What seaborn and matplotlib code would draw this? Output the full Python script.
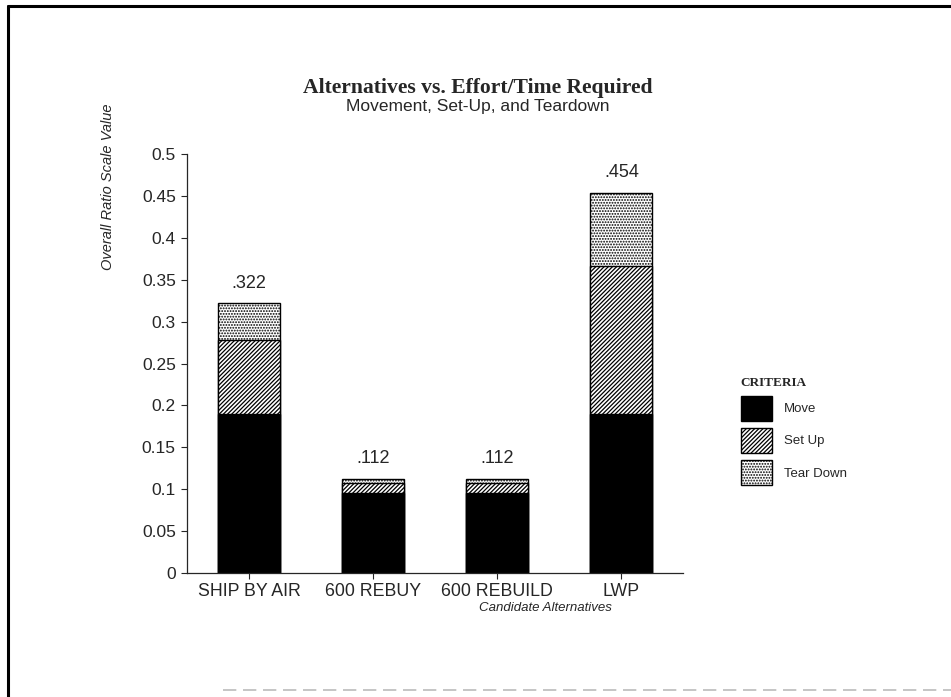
import matplotlib.pyplot as plt
import pandas as pd
import seaborn as sns
from matplotlib.lines import Line2D
from matplotlib.patches import Patch

# values
alternatives = ["SHIP BY AIR", "600 REBUY", "600 REBUILD", "LWP"]
move = [0.190, 0.096, 0.096, 0.190]
set_up = [0.088, 0.012, 0.012, 0.177]
tear_down = [0.044, 0.004, 0.004, 0.087]
y_ticks = [0, 0.05, 0.1, 0.15, 0.2, 0.25, 0.3, 0.35, 0.4, 0.45, 0.5]
y_tick_labels = ["0", "0.05", "0.1", "0.15", "0.2", "0.25", "0.3", "0.35", "0.4", "0.45", "0.5"]
criteria = ["Move", "Set Up", "Tear Down"]

SANS = "Liberation Sans"
SERIF = "Liberation Serif"
HATCH_SETUP = "////////"
HATCH_TEAR = "......"


def main():
    sns.set_style("ticks")
    plt.rcParams["font.family"] = [SANS, "DejaVu Sans"]
    plt.rcParams["hatch.linewidth"] = 0.9
    plt.rcParams["hatch.color"] = "black"

    df = pd.DataFrame({
        "alt": alternatives,
        "move": move,
        "set_up": set_up,
        "tear_down": tear_down,
    })
    df["lvl2"] = df["move"] + df["set_up"]
    df["total"] = df["lvl2"] + df["tear_down"]

    fig = plt.figure(figsize=(9.51, 6.97), dpi=100)
    ax = fig.add_axes([0.1966, 0.1779, 0.522, 0.601])

    # stacked bars drawn back to front
    sns.barplot(data=df, x="alt", y="total", color="white", edgecolor="black",
                hatch=HATCH_TEAR, linewidth=1.0, width=0.5, ax=ax)
    sns.barplot(data=df, x="alt", y="lvl2", color="white", edgecolor="black",
                hatch=HATCH_SETUP, linewidth=1.0, width=0.5, ax=ax)
    sns.barplot(data=df, x="alt", y="move", color="black", edgecolor="black",
                linewidth=1.0, width=0.5, ax=ax)

    for i, v in enumerate(df["total"]):
        ax.text(i, v + 0.014, f"{v:.3f}".lstrip("0"), ha="center", va="bottom",
                fontsize=13)

    ax.set_xlim(-0.5, 3.5)
    ax.set_ylim(0, 0.5)
    ax.set_yticks(y_ticks)
    ax.set_yticklabels(y_tick_labels, fontsize=12.5)
    ax.tick_params(axis="x", labelsize=12.8, length=4, width=0.8, pad=3)
    ax.tick_params(axis="y", length=4, width=0.8, pad=4)
    ax.set_xlabel("")
    ax.set_ylabel("")
    sns.despine(ax=ax)
    for s in ["left", "bottom"]:
        ax.spines[s].set_linewidth(0.9)

    fig.text(0.502, 1 - 88 / 697, "Alternatives vs. Effort/Time Required",
             ha="center", va="center", fontsize=15.6, fontweight="bold",
             family=[SERIF, "DejaVu Serif"])
    fig.text(0.502, 1 - 106 / 697, "Movement, Set-Up, and Teardown",
             ha="center", va="center", fontsize=12.5)
    fig.text(0.1136, 1 - 187 / 697, "Overall Ratio Scale Value", rotation=90,
             ha="center", va="center", fontsize=10.5, style="italic")
    fig.text(0.574, 1 - 608 / 697, "Candidate Alternatives", ha="center",
             va="center", fontsize=9.5, style="italic")

    handles = [
        Patch(facecolor="black", edgecolor="black"),
        Patch(facecolor="white", edgecolor="black", hatch=HATCH_SETUP),
        Patch(facecolor="white", edgecolor="black", hatch=HATCH_TEAR),
    ]
    leg = fig.legend(handles, criteria, title="CRITERIA", loc="upper left",
                     bbox_to_anchor=(0.779, 1 - 377 / 697), frameon=False,
                     fontsize=9.5, title_fontsize=9.5, handlelength=2.4,
                     handleheight=2.6, labelspacing=0.5, handletextpad=0.9,
                     borderpad=0, borderaxespad=0, alignment="left")
    leg.get_title().set_fontweight("bold")
    leg.get_title().set_family([SERIF, "DejaVu Serif"])
    leg._legend_handle_box.sep = 8  # a bit more room under the title

    # page frame of the scanned figure
    fig.add_artist(Line2D([0.0085, 1.0], [0.991, 0.991], color="black", lw=2.2,
                          transform=fig.transFigure))
    fig.add_artist(Line2D([0.0085, 0.0085], [0.0, 0.991], color="black", lw=2.2,
                          transform=fig.transFigure))
    fig.add_artist(Line2D([0.235, 1.0], [0.01, 0.01], color="#bbbbbb", lw=1.2,
                          ls=(0, (8, 4)), transform=fig.transFigure))

    fig.savefig("out.png", dpi=100)


if __name__ == "__main__":
    main()
